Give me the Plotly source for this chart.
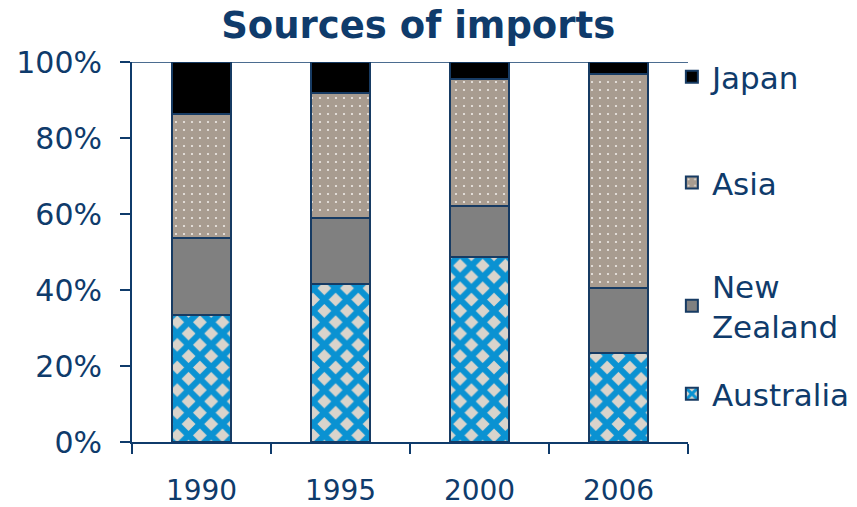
import plotly.graph_objects as go

# Share of imports by source region (percent of total)
years = ["1990", "1995", "2000", "2006"]
australia = [33.5, 41.7, 48.8, 23.5]
new_zealand = [20.3, 17.3, 13.4, 16.9]
asia = [32.6, 32.9, 33.4, 56.4]
japan = [13.6, 8.1, 4.4, 3.2]

y_ticks = [0, 20, 40, 60, 80, 100]
y_labels = ["0%", "20%", "40%", "60%", "80%", "100%"]

NAVY = "#0F3B6B"
OUTLINE = "#173B63"
FONT = "DejaVu Sans"

series = [
    ("Australia", australia, dict(shape="x", bgcolor="#D9D4CC", fgcolor="#0A92D2",
                                  size=16, solidity=0.62, fillmode="replace"), "legend4"),
    ("New<br>Zealand", new_zealand, None, "legend3"),
    ("Asia", asia, dict(shape=".", bgcolor="#A89C90", fgcolor="#EEEAE6",
                        size=8, solidity=0.06, fillmode="replace"), "legend2"),
    ("Japan", japan, None, "legend"),
]
solid = {"New<br>Zealand": "#808080", "Japan": "#000000"}

fig = go.Figure()
for name, vals, pattern, leg in series:
    marker = dict(line=dict(color=OUTLINE, width=2))
    if pattern is None:
        marker["color"] = solid[name]
    else:
        marker["color"] = pattern["bgcolor"]
        marker["pattern"] = pattern
    fig.add_trace(go.Bar(x=years, y=vals, name=name, marker=marker, legend=leg,
                         showlegend=True))

# 100% reference line along the top of the plot
fig.add_shape(type="line", xref="paper", yref="y", x0=0, x1=1, y0=100, y1=100,
              line=dict(color=NAVY, width=1.5), layer="below")

leg_common = dict(x=0.971, xanchor="left", yanchor="middle", bgcolor="rgba(0,0,0,0)",
                  font=dict(family=FONT, size=31, color=NAVY))

fig.update_layout(
    width=857, height=507,
    margin=dict(l=132, r=169, t=62, b=65, autoexpand=False),
    barmode="stack",
    bargap=0.58,
    showlegend=True,
    plot_bgcolor="white",
    paper_bgcolor="white",
    title=dict(text="<b>Sources of imports</b>", x=0.488, xanchor="center",
               y=0.95, yanchor="middle", yref="container",
               font=dict(family=FONT, size=37, color=NAVY)),
    legend=dict(y=0.9605, **leg_common),
    legend2=dict(y=0.682, **leg_common),
    legend3=dict(y=0.358, **leg_common),
    legend4=dict(y=0.126, **leg_common),
    xaxis=dict(type="category", tickson="boundaries", ticks="outside", ticklen=10,
               tickwidth=2, tickcolor=NAVY, showline=True, linecolor=NAVY, linewidth=2,
               showgrid=False, ticklabelstandoff=22, automargin=False,
               tickfont=dict(family=FONT, size=28, color=NAVY)),
    yaxis=dict(range=[0, 100], tickmode="array", tickvals=y_ticks, ticktext=y_labels,
               ticks="outside", ticklen=10, tickwidth=2, tickcolor=NAVY, showline=True,
               linecolor=NAVY, linewidth=2, showgrid=False, zeroline=False,
               ticklabelstandoff=12, automargin=False,
               tickfont=dict(family=FONT, size=30, color=NAVY)),
)

fig.write_html("out.html")
